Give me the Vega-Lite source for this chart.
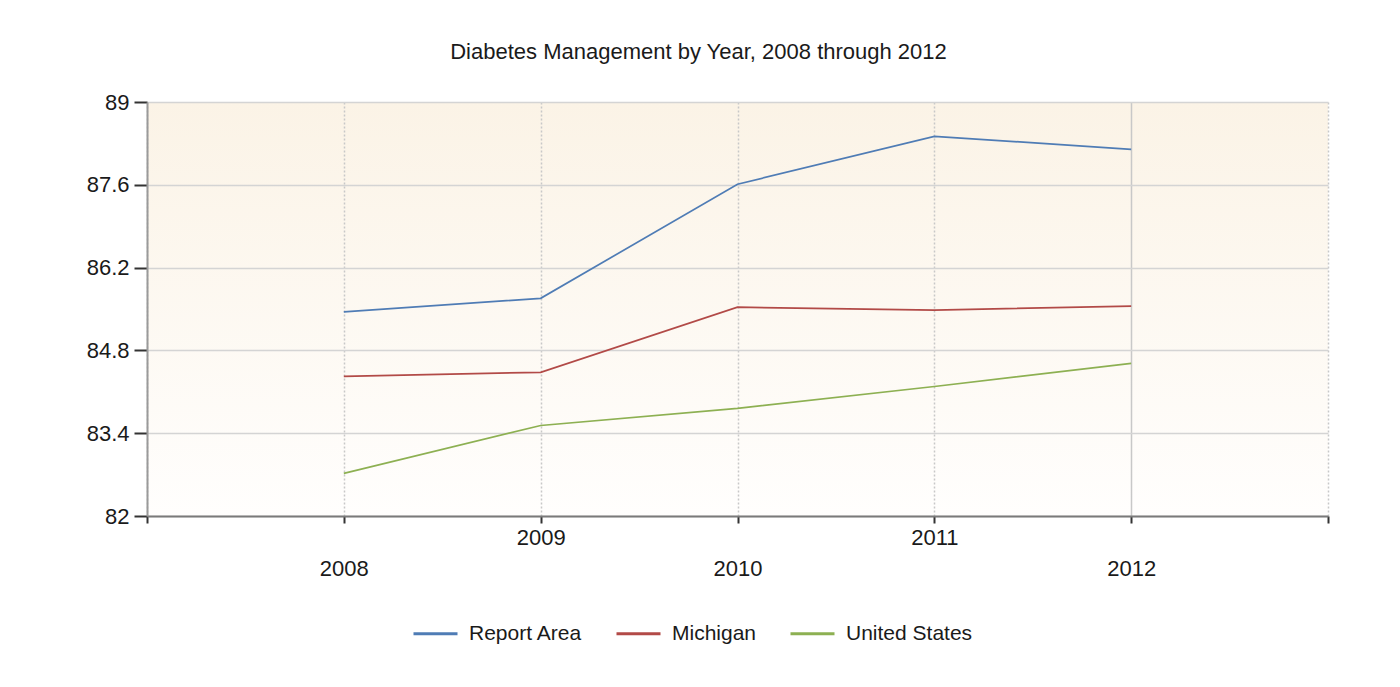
{
  "$schema": "https://vega.github.io/schema/vega-lite/v6.json",
  "width": 1181,
  "height": 414,
  "autosize": {"type": "none"},
  "padding": {"left": 147, "top": 102, "right": 72, "bottom": 171},
  "background": "white",
  "title": {
    "text": "Diabetes Management by Year, 2008 through 2012",
    "font": "Liberation Sans",
    "fontSize": 22,
    "fontWeight": "normal",
    "color": "#1a1a1a",
    "anchor": "middle",
    "offset": 27,
    "dx": -39
  },
  "data": {
    "values": [
      {"year": 2008, "series": "Report Area", "value": 85.45},
      {"year": 2009, "series": "Report Area", "value": 85.68},
      {"year": 2010, "series": "Report Area", "value": 87.61},
      {"year": 2011, "series": "Report Area", "value": 88.42},
      {"year": 2012, "series": "Report Area", "value": 88.2},
      {"year": 2008, "series": "Michigan", "value": 84.36},
      {"year": 2009, "series": "Michigan", "value": 84.43},
      {"year": 2010, "series": "Michigan", "value": 85.53},
      {"year": 2011, "series": "Michigan", "value": 85.48},
      {"year": 2012, "series": "Michigan", "value": 85.55},
      {"year": 2008, "series": "United States", "value": 82.72},
      {"year": 2009, "series": "United States", "value": 83.53},
      {"year": 2010, "series": "United States", "value": 83.82},
      {"year": 2011, "series": "United States", "value": 84.19},
      {"year": 2012, "series": "United States", "value": 84.58}
    ]
  },
  "mark": {"type": "line", "strokeWidth": 1.7},
  "encoding": {
    "x": {
      "field": "year",
      "type": "quantitative",
      "title": null,
      "scale": {"domain": [2007, 2013], "nice": false, "zero": false},
      "axis": {
        "values": [2007, 2008, 2009, 2010, 2011, 2012, 2013],
        "labelExpr": "datum.value == 2007 || datum.value == 2013 ? '' : datum.label",
        "format": "d",
        "labelFont": "Liberation Sans",
        "labelFontSize": 22,
        "labelColor": "#1a1a1a",
        "labelBaseline": "top",
        "labelPadding": {"condition": {"test": "datum.value == 2009 || datum.value == 2011", "value": 4}, "value": 35},
        "labelFlush": false,
        "labelOverlap": false,
        "tickSize": 7,
        "tickWidth": 2,
        "tickColor": "#333333",
        "domainColor": "#7a7a7a",
        "domainWidth": 2,
        "grid": true,
        "gridColor": "#c8c8c8",
        "gridWidth": 1.5,
        "gridDash": {"condition": {"test": "datum.value == 2012", "value": []}, "value": [2, 2]}
      }
    },
    "y": {
      "field": "value",
      "type": "quantitative",
      "title": null,
      "scale": {"domain": [82, 89], "nice": false, "zero": false},
      "axis": {
        "values": [82, 83.4, 84.8, 86.2, 87.6, 89],
        "labelExpr": "abs(datum.value - round(datum.value)) < 0.001 ? format(datum.value, 'd') : format(datum.value, '.1f')",
        "labelFont": "Liberation Sans",
        "labelFontSize": 22,
        "labelColor": "#1a1a1a",
        "labelPadding": 5,
        "labelFlush": false,
        "labelOverlap": false,
        "tickSize": 13,
        "tickWidth": 2,
        "tickColor": "#333333",
        "domainColor": "#9a9a9a",
        "domainWidth": 2,
        "grid": true,
        "gridColor": "#d4d4d4",
        "gridWidth": 1.5
      }
    },
    "color": {
      "field": "series",
      "type": "nominal",
      "scale": {
        "domain": ["Report Area", "Michigan", "United States"],
        "range": ["#4f7cb5", "#b24a47", "#8db052"]
      },
      "legend": {
        "title": null,
        "orient": "none",
        "direction": "horizontal",
        "legendX": 265,
        "legendY": 508,
        "symbolType": "stroke",
        "symbolSize": 1936,
        "symbolStrokeWidth": 3,
        "labelFont": "Liberation Sans",
        "labelFontSize": 21,
        "labelColor": "#1a1a1a",
        "labelOffset": 10,
        "columnPadding": 27
      }
    }
  },
  "config": {
    "view": {
      "stroke": null,
      "fill": {
        "gradient": "linear",
        "x1": 0, "y1": 0, "x2": 0, "y2": 1,
        "stops": [
          {"offset": 0, "color": "#fbf3e6"},
          {"offset": 1, "color": "#fffefd"}
        ]
      }
    }
  }
}
